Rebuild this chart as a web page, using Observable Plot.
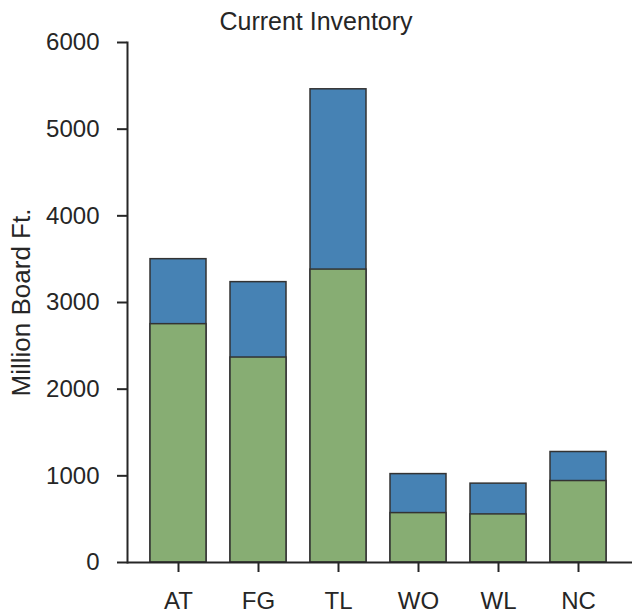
<!DOCTYPE html>
<html>
<head>
<meta charset="utf-8">
<script src="https://cdn.jsdelivr.net/npm/d3@7"></script>
<script src="https://cdn.jsdelivr.net/npm/@observablehq/plot@0.6"></script>
<style>
  html, body { margin: 0; padding: 0; background: #fff; }
  #wrap { position: relative; width: 632px; height: 616px; font-family: "Liberation Sans", Arial, sans-serif; }
  #title { position: absolute; left: 0; top: 7px; width: 632px; text-align: center; font-size: 25px; color: #262626; }
</style>
</head>
<body>
<div id="wrap"><div id="title">Current Inventory</div></div>
<script>
const categories = ["AT", "FG", "TL", "WO", "WL", "NC"];
const totalValues = [3500, 3235, 5460, 1020, 910, 1275];
const greenValues = [2750, 2365, 3380, 570, 555, 940];
const yTicks = [0, 1000, 2000, 3000, 4000, 5000, 6000];

const rows = categories.map((c, i) => ({cat: c, total: totalValues[i], green: greenValues[i]}));

const chart = Plot.plot({
  width: 632,
  height: 616,
  marginLeft: 127,
  marginRight: 0,
  marginTop: 42,
  marginBottom: 54,
  style: {fontFamily: "'Liberation Sans', Arial, sans-serif", color: "#262626", background: "#fff"},
  x: {domain: categories, paddingInner: 0.3, paddingOuter: 0.283, align: 0.467, label: null},
  y: {domain: [0, 6000], label: null},
  marks: [
    Plot.barY(rows, {x: "cat", y: "total", fill: "#4682b4", stroke: "#333", strokeWidth: 1.5}),
    Plot.barY(rows, {x: "cat", y: "green", fill: "#87ad73", stroke: "#333", strokeWidth: 1.5}),
    Plot.ruleY([0], {stroke: "#262626", strokeWidth: 2}),
    Plot.frame({anchor: "left", stroke: "#262626", strokeWidth: 2}),
    Plot.axisY({ticks: yTicks, tickFormat: "d", tickSize: 10, tickPadding: 18, fontSize: 24, strokeWidth: 2, label: "Million Board Ft.", labelAnchor: "center", labelArrow: "none", labelOffset: 116, fontSize: 24}),
    Plot.axisX({tickSize: 10, tickPadding: 19, fontSize: 24, strokeWidth: 2, label: null})
  ]
});
// enlarge y label slightly (matches reference)
chart.querySelectorAll("g[aria-label='y-axis label'] text").forEach(t => t.setAttribute("font-size", 26));
document.getElementById("wrap").appendChild(chart);
</script>
</body>
</html>
